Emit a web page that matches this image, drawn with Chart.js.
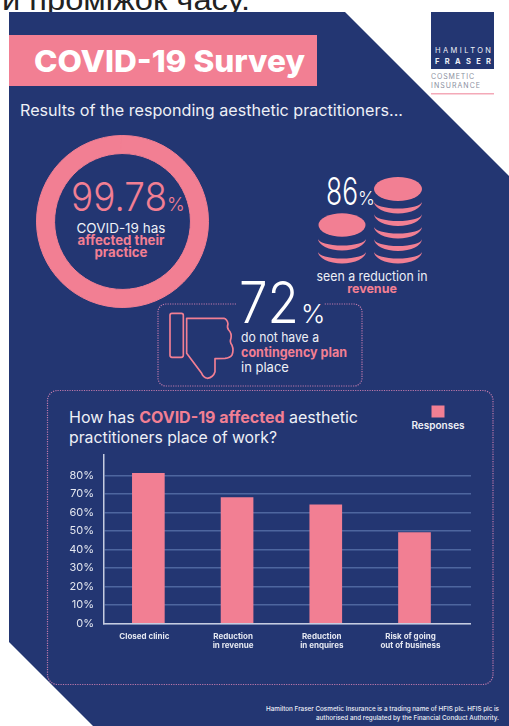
<!DOCTYPE html>
<html>
<head>
<meta charset="utf-8">
<title>COVID-19 Survey</title>
<script src="https://cdn.jsdelivr.net/npm/chart.js@4"></script>
<style>
  html, body { margin: 0; padding: 0; background: #fff; }
  #page { position: relative; width: 509px; height: 726px; overflow: hidden; }
  #page svg { position: absolute; left: 0; top: 0; }
  #page canvas { position: absolute; }
  text { font-family: Inter, "Noto Sans", sans-serif; fill: #eef0f6; }
  .pink { fill: #f27f93; }
  .b { font-weight: 700; }
  .l { font-weight: 300; }
</style>
</head>
<body>
<div id="page">
  <svg width="509" height="726" viewBox="0 0 509 726">
    <text x="2" y="10" style="font-family:'Liberation Sans'; font-size:29px; fill:#222" textLength="248" lengthAdjust="spacingAndGlyphs">и проміжок часу.</text>

    <!-- background panel with cut corners -->
    <polygon points="9,12 345,12 509,176 509,726 93,726 9,642" fill="#233672"/>

    <!-- logo -->
    <rect x="431" y="12" width="63" height="57" fill="#233672"/>
    <rect x="431" y="69" width="63" height="25" fill="#fff"/>
    <text x="435" y="53" style="font-size:7.500px" textLength="56">HAMILTON</text>
    <text x="435" y="64" class="b" style="font-size:7.500px" textLength="56">FRASER</text>
    <text x="431" y="79" style="font-size:7px; fill:#8b90a0" textLength="43">COSMETIC</text>
    <text x="431" y="88" style="font-size:7px; fill:#8b90a0" textLength="49">INSURANCE</text>
    <rect x="431" y="93" width="63" height="1.5" fill="#f4a9b8"/>

    <!-- heading -->
    <rect x="9" y="35" width="308" height="51" fill="#f27f93"/>
    <text x="34" y="72" class="b" style="font-size:30px; fill:#fff; font-weight:800" textLength="271" lengthAdjust="spacingAndGlyphs">COVID-19 Survey</text>
    <text x="20" y="116" style="font-size:16px" textLength="383" lengthAdjust="spacingAndGlyphs">Results of the responding aesthetic practitioners...</text>

    <!-- ring figures -->
    <text x="71" y="211" class="l pink" style="font-size:40px" textLength="96" lengthAdjust="spacingAndGlyphs">99.78</text>
    <text x="167" y="211" class="l pink" style="font-size:19px">%</text>
    <text x="121" y="233" text-anchor="middle" style="font-size:13.5px">COVID-19 has</text>
    <text x="121" y="245" text-anchor="middle" class="b pink" style="font-size:13.2px">affected their</text>
    <text x="121" y="257" text-anchor="middle" class="b pink" style="font-size:13.2px">practice</text>

    <!-- coin stacks -->
    <g fill="#f27f93">
      <ellipse cx="342" cy="225" rx="23.5" ry="11.7"/>
      <path d="M318 238.500a24 12 0 0 0 48 0a24 7 0 0 1 -48 0z"/>
      <path d="M318 251.500a24 12 0 0 0 48 0a24 7 0 0 1 -48 0z"/>
      <ellipse cx="398" cy="189" rx="24" ry="12"/>
      <path d="M374 201.500a24 12 0 0 0 48 0a24 7 0 0 1 -48 0z"/>
      <path d="M374 214a24 12 0 0 0 48 0a24 7 0 0 1 -48 0z"/>
      <path d="M374 226.500a24 12 0 0 0 48 0a24 7 0 0 1 -48 0z"/>
      <path d="M374 239a24 12 0 0 0 48 0a24 7 0 0 1 -48 0z"/>
      <path d="M374 251.500a24 12 0 0 0 48 0a24 7 0 0 1 -48 0z"/>
    </g>
    <text x="326" y="205" class="l" style="font-size:38px; fill:#fff" textLength="32" lengthAdjust="spacingAndGlyphs">86</text>
    <text x="358" y="205" class="l" style="font-size:18px; fill:#fff">%</text>
    <text x="372" y="281" text-anchor="middle" style="font-size:13px" textLength="111" lengthAdjust="spacingAndGlyphs">seen a reduction in</text>
    <text x="372" y="293" text-anchor="middle" class="b pink" style="font-size:12.500px">revenue</text>

    <!-- dotted outlines -->
    <g fill="none" stroke="#bd78aa" stroke-width="1.2" stroke-dasharray="1.2 1.2">
      <path d="M236 304H166a8 8 0 0 0 -8 8V378a8 8 0 0 0 8 8H354a8 8 0 0 0 8 -8V312a8 8 0 0 0 -8 -8H324"/>
      <rect x="47.500" y="390.500" width="445.500" height="294" rx="10"/>
    </g>
    <text x="239" y="323" class="l" style="font-size:58px; fill:#fff" textLength="60" lengthAdjust="spacingAndGlyphs">72</text>
    <text x="301" y="323" class="l" style="font-size:26px; fill:#fff">%</text>
    <text x="241" y="342" style="font-size:13px" textLength="78" lengthAdjust="spacingAndGlyphs">do not have a</text>
    <text x="241" y="357" class="b pink" style="font-size:13px" textLength="106" lengthAdjust="spacingAndGlyphs">contingency plan</text>
    <text x="241" y="372" style="font-size:13px">in place</text>

    <!-- thumbs down -->
    <g transform="translate(150 160) scale(.3333)" fill="none" stroke="#f27f93" stroke-width="5" stroke-linejoin="round">
      <rect x="60" y="460" width="40" height="132" rx="6"/>
      <path d="M110 475H222Q232 478 234 492Q230 502 236 510Q246 520 243 535Q238 545 246 556Q252 570 246 585Q240 594 225 595L195 596V635Q190 652 172 655Q160 652 155 640L110 580Z"/>
    </g>

    <!-- bar chart heading and key -->
    <text x="69" y="423" style="font-size:16px" textLength="289">How has <tspan class="b pink">COVID-19 affected</tspan> aesthetic</text>
    <text x="69" y="443" style="font-size:16px" textLength="208" lengthAdjust="spacingAndGlyphs">practitioners place of work?</text>
    <rect x="431.500" y="405.500" width="13" height="12" fill="#f27f93"/>
    <text id="keyText" x="438" y="429" text-anchor="middle" style="font-size:10px; font-weight:600"></text>

    <!-- footer -->
    <text x="499" y="711" text-anchor="end" style="font-size:6.500px; font-weight:500" textLength="233" lengthAdjust="spacingAndGlyphs">Hamilton Fraser Cosmetic Insurance is a trading name of HFIS plc. HFIS plc is</text>
    <text x="499" y="720" text-anchor="end" style="font-size:6.500px; font-weight:500" textLength="183" lengthAdjust="spacingAndGlyphs">authorised and regulated by the Financial Conduct Authority.</text>
  </svg>
  <canvas id="ringChart" width="173" height="173" style="left:36px; top:135px"></canvas>
  <canvas id="barChart" width="431" height="226" style="left:40px; top:454px"></canvas>
</div>

<script>
const categories = [
  ["Closed clinic"],
  ["Reduction", "in revenue"],
  ["Reduction", "in enquires"],
  ["Risk of going", "out of business"],
];
const responses = [81, 68, 64, 49];
const seriesName = "Responses";
const tickValues = [0, 10, 20, 30, 40, 50, 60, 70, 80];
const ringValues = [99.78, 0.22];

const PINK = "#f27f93";

document.getElementById("keyText").textContent = seriesName;

// Ring around the headline figure
new Chart(document.getElementById("ringChart"), {
  type: "doughnut",
  data: {
    datasets: [
      {
        data: ringValues,
        backgroundColor: [PINK, PINK],
        borderColor: PINK,
        borderWidth: 1,
      },
    ],
  },
  options: {
    responsive: false,
    animation: false,
    cutout: "79%",
    plugins: { legend: { display: false }, tooltip: { enabled: false } },
  },
});

// x is linear so the bars can stop short of the end of the gridlines
new Chart(document.getElementById("barChart"), {
  type: "bar",
  data: {
    datasets: [
      {
        label: seriesName,
        data: responses.map((v, i) => ({ x: i, y: v })),
        backgroundColor: PINK,
        barThickness: 32,
      },
    ],
  },
  options: {
    responsive: false,
    animation: false,
    layout: { padding: 0 },
    plugins: { legend: { display: false }, tooltip: { enabled: false } },
    scales: {
      x: {
        type: "linear",
        offset: false,
        min: -0.5,
        max: 3.637,
        afterBuildTicks: (axis) => {
          axis.ticks = categories.map((c, i) => ({ value: i }));
        },
        afterFit: (axis) => {
          axis.height = 56.7;
          axis.paddingLeft = axis.paddingRight = 0;
        },
        grid: { display: false },
        border: { color: "#c6cce0", width: 1.5 },
        ticks: {
          autoSkip: false,
          maxRotation: 0,
          padding: 0,
          labelOffset: -4,
          color: "#e4e7f0",
          font: { family: "Inter", size: 8, weight: "700", lineHeight: 1.2 },
          callback: (value) => categories[value],
        },
      },
      y: {
        min: 0,
        max: 91.5,
        afterBuildTicks: (axis) => {
          axis.ticks = tickValues.map((v) => ({ value: v }));
        },
        afterFit: (axis) => {
          axis.width = 64;
          axis.paddingTop = axis.paddingBottom = 0;
        },
        grid: { color: "#4e669f", lineWidth: 1.5, drawTicks: false },
        border: { color: "#c6cce0", width: 1.5 },
        ticks: {
          padding: 10,
          color: "#e4e7f0",
          font: { family: "Inter", size: 11 },
          callback: (value) => value + "%",
        },
      },
    },
  },
});
</script>
</body>
</html>
